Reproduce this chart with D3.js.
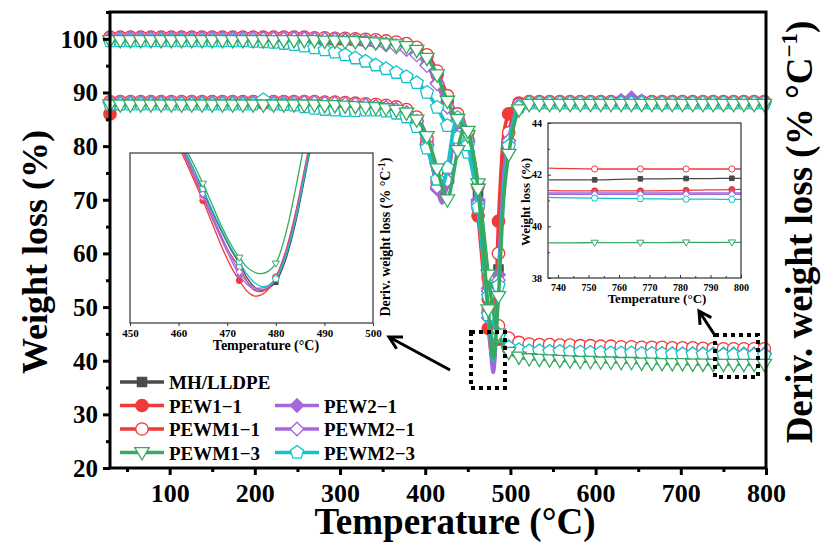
<!DOCTYPE html>
<html>
<head>
<meta charset="utf-8">
<script src="https://cdn.jsdelivr.net/npm/d3@7"></script>
<style>
  body { margin: 0; background: #fff; }
  text { font-family: "Liberation Serif", "Times New Roman", serif; font-weight: bold; fill: #000; }
</style>
</head>
<body>
<svg id="chart" width="821" height="544"></svg>
<script>
// temperature grid of the main TGA / DTG curves (°C)
const temps = [30,42,54,66,78,90,102,114,126,138,150,162,174,186,198,210,222,234,246,258,270,282,294,306,318,330,342,354,366,378,
  384,390,396,402,408,414,420,426,432,438,444,450,456,462,468,474,480,486,492,498,504,510,516,
  522,534,546,558,570,582,594,606,618,630,642,654,666,678,690,702,714,726,738,750,762,774,786,798,800];

// weight loss (%) curves
const tgMH = [100,100,100,100,100,100,100,100,100,100,100,100,100,100,100,100,100,100,100,100,99.9,99.9,99.8,99.8,99.7,99.6,99.5,99.3,99.1,98.8,
  98.5,98.1,97.5,96.6,95.3,93.5,91.2,88.8,86.8,85.4,84.0,81.8,78.0,71.5,63.0,54.5,48.5,45.5,44.0,43.2,42.8,42.6,42.5,
  42.4,42.4,42.3,42.3,42.2,42.2,42.2,42.1,42.1,42.1,42.0,42.0,42.0,42.0,41.9,41.9,41.9,41.9,41.8,41.8,41.8,41.8,41.85,41.85,41.85];
const tgPEW11 = [100.1,100.1,100.1,100.1,100.1,100.1,100.1,100.1,100.1,100.1,100.1,100.1,100.1,100.1,100.1,100.1,100.1,100.1,100.1,100.1,100.0,100.0,99.9,99.9,99.8,99.7,99.6,99.4,99.2,98.9,
  98.6,98.2,97.6,96.7,95.3,93.3,90.8,88.4,86.5,85.0,83.4,80.8,76.0,68.5,59.5,51.5,46.5,44.0,42.8,42.2,41.9,41.8,41.7,
  41.7,41.7,41.6,41.6,41.6,41.6,41.5,41.5,41.5,41.5,41.5,41.4,41.4,41.4,41.4,41.4,41.4,41.4,41.38,41.38,41.4,41.4,41.42,41.42,41.42];
const tgPEWM11 = [100.3,100.3,100.3,100.3,100.3,100.3,100.3,100.3,100.3,100.3,100.3,100.3,100.3,100.3,100.3,100.3,100.3,100.3,100.3,100.3,100.2,100.2,100.1,100.1,100.0,99.9,99.8,99.6,99.4,99.1,
  98.8,98.4,97.9,97.0,95.8,94.0,91.8,89.4,87.4,86.0,84.6,82.5,78.8,72.5,64.0,55.5,49.5,46.5,45.0,44.2,43.7,43.4,43.2,
  43.1,43.0,43.0,42.9,42.9,42.8,42.8,42.7,42.7,42.6,42.6,42.5,42.5,42.5,42.4,42.4,42.4,42.3,42.25,42.22,42.22,42.22,42.22,42.22,42.22];
const tgPEWM13 = [99.7,99.7,99.7,99.7,99.7,99.7,99.7,99.7,99.7,99.7,99.7,99.7,99.7,99.7,99.7,99.7,99.7,99.7,99.7,99.7,99.7,99.6,99.6,99.5,99.5,99.4,99.3,99.1,98.9,98.6,
  98.3,97.9,97.3,96.4,95.1,93.3,90.8,88.4,86.4,85.0,83.8,82.0,78.8,73.0,65.0,56.0,49.0,45.0,42.8,41.6,41.0,40.7,40.5,
  40.4,40.3,40.2,40.1,40.0,39.9,39.9,39.8,39.8,39.7,39.7,39.6,39.6,39.5,39.5,39.5,39.4,39.4,39.35,39.35,39.35,39.35,39.37,39.37,39.37];
const tgPEW21 = [100.2,100.2,100.2,100.2,100.2,100.2,100.2,100.2,100.2,100.2,100.2,100.2,100.2,100.2,100.2,100.2,100.2,100.2,100.2,100.2,100.1,100.0,100.0,99.9,99.8,99.6,99.4,99.1,98.7,98.2,
  97.8,97.2,96.4,95.2,93.7,91.8,89.5,87.4,85.8,84.6,83.3,81.0,76.8,70.0,61.5,53.5,48.0,45.0,43.4,42.6,42.1,41.9,41.8,
  41.7,41.7,41.6,41.6,41.5,41.5,41.5,41.4,41.4,41.4,41.4,41.3,41.3,41.3,41.3,41.3,41.3,41.3,41.28,41.28,41.28,41.28,41.28,41.28,41.28];
const tgPEWM21 = [100,100,100,100,100,100,100,100,100,100,100,100,100,100,100,100,100,100,100,100,99.9,99.9,99.8,99.7,99.6,99.4,99.2,98.9,98.5,98.0,
  97.6,97.0,96.2,95.0,93.5,91.6,89.4,87.3,85.7,84.5,83.1,80.7,76.5,69.5,61.0,53.0,47.6,44.8,43.3,42.5,42.0,41.8,41.7,
  41.6,41.6,41.5,41.5,41.4,41.4,41.4,41.3,41.3,41.3,41.3,41.3,41.3,41.3,41.25,41.25,41.25,41.25,41.23,41.23,41.23,41.23,41.23,41.23,41.23];
const tgPEWM23 = [99.6,99.6,99.6,99.6,99.6,99.6,99.6,99.6,99.6,99.6,99.6,99.6,99.6,99.6,99.5,99.4,99.3,99.1,98.9,98.6,98.3,97.9,97.5,97.0,96.4,95.8,95.1,94.4,93.7,92.9,
  92.4,91.8,91.0,90.0,88.7,87.2,85.4,83.8,82.6,81.6,80.6,78.8,75.0,68.5,60.0,52.0,47.0,44.5,43.2,42.5,42.2,42.0,41.9,
  41.8,41.8,41.7,41.7,41.6,41.6,41.5,41.5,41.4,41.4,41.4,41.3,41.3,41.3,41.2,41.2,41.2,41.15,41.1,41.08,41.06,41.05,41.04,41.03,41.03];

// derivative curves (drawn on the same frame, unlabelled right axis)
const dtgMH = [88,88,88,88,88,88,88,88,88,88,88,88,88,88,88,88,88,88,88,88,88,87.9,87.9,87.8,87.7,87.6,87.5,87.3,87.0,86.5,
  85.9,85.1,83.8,81.4,77.8,73.6,71.0,74.2,80.2,84.2,84.0,80.6,76.2,69.0,59.5,49.0,40.0,57.0,75.0,81.5,85.5,87.6,88.0,
  88.1,88.1,88.1,88.1,88.1,88.1,88.1,88.1,88.1,88.1,88.1,88.1,88.1,88.1,88.1,88.1,88.1,88.1,88.1,88.1,88.1,88.1,88.1,88.1,88.1];
const dtgPEW11 = [86.0,87.8,88,88,88,88,88,88,88,88,88,88,88,88,88,88,88,88,88,88,88,87.9,87.9,87.8,87.7,87.6,87.4,87.2,86.9,86.3,
  85.6,84.7,83.2,80.6,76.8,72.4,69.6,73.6,80.8,85.2,84.6,80.8,75.6,67.0,56.5,46.0,39.5,66.0,82.0,86.0,87.5,88.0,88.1,
  88.1,88.1,88.1,88.1,88.1,88.1,88.1,88.1,88.1,88.1,88.1,88.1,88.1,88.1,88.1,88.1,88.1,88.1,88.1,88.1,88.1,88.1,88.1,88.1,88.1];
const dtgPEWM11 = [88.3,88.3,88.3,88.3,88.3,88.3,88.3,88.3,88.3,88.3,88.3,88.3,88.3,88.3,88.3,88.3,88.3,88.3,88.3,88.3,88.3,88.2,88.2,88.1,88.0,87.9,87.8,87.6,87.3,86.8,
  86.2,85.4,84.0,81.4,77.6,73.4,70.6,74.0,80.6,84.8,85.0,81.2,76.6,69.5,60.0,49.5,40.5,60.0,77.0,82.5,86.0,87.8,88.3,
  88.3,88.3,88.3,88.3,88.3,88.3,88.3,88.3,88.3,88.3,88.3,88.3,88.3,88.3,88.3,88.3,88.3,88.3,88.3,88.3,88.3,88.3,88.3,88.3,88.3];
const dtgPEWM13 = [87.7,87.7,87.7,87.7,87.7,87.7,87.7,87.7,87.7,87.7,87.7,87.7,87.7,87.7,87.7,87.7,87.7,87.7,87.7,87.7,87.7,87.6,87.6,87.5,87.4,87.3,87.2,87.0,86.7,86.2,
  85.6,84.9,83.8,81.8,79.0,75.8,72.4,70.0,73.8,79.2,82.6,82.8,78.6,72.0,61.0,49.5,40.5,52.0,70.0,78.5,83.8,86.8,87.6,
  87.8,87.8,87.8,87.8,87.8,87.8,87.8,87.8,87.8,87.8,87.8,87.8,87.8,87.8,87.8,87.8,87.8,87.8,87.8,87.8,87.8,87.8,87.8,87.8,87.8];
const dtgPEW21 = [88.2,88.2,88.2,88.2,88.2,88.2,88.2,88.2,88.2,88.2,88.2,88.2,88.2,88.2,88.2,88.2,88.2,88.2,88.2,88.2,88.2,88.1,88.0,87.9,87.8,87.7,87.5,87.2,86.9,86.3,
  85.6,84.6,83.0,80.2,76.4,72.0,69.4,73.2,79.8,84.4,84.4,81.0,76.6,69.8,60.5,49.0,39.0,56.0,74.0,81.0,85.0,87.5,88.1,
  88.2,88.2,88.2,88.2,88.2,88.2,88.2,88.2,88.2,88.5,89.0,88.4,88.2,88.2,88.2,88.2,88.2,88.2,88.2,88.2,88.2,88.2,88.2,88.2,88.2];
const dtgPEWM21 = [88.1,88.1,88.1,88.1,88.1,88.1,88.1,88.1,88.1,88.1,88.1,88.1,88.1,88.1,88.1,88.1,88.1,88.1,88.1,88.1,88.1,88.0,88.0,87.9,87.8,87.6,87.4,87.2,86.8,86.2,
  85.5,84.6,83.1,80.4,76.6,72.4,70.0,73.6,80.2,84.6,84.6,81.0,76.4,69.4,59.5,48.0,37.8,55.0,74.0,81.0,85.2,87.6,88.1,
  88.1,88.1,88.1,88.1,88.1,88.1,88.1,88.1,88.1,88.1,88.1,88.1,88.1,88.1,88.1,88.1,88.1,88.1,88.1,88.1,88.1,88.1,88.1,88.1,88.1];
const dtgPEWM23 = [87.8,87.8,87.8,87.8,87.8,87.8,87.8,87.8,87.8,87.8,87.8,87.8,87.8,87.8,87.8,88.6,87.8,87.7,87.6,87.3,87.0,86.8,86.7,86.6,86.6,86.7,86.7,86.5,86.1,85.4,
  84.6,83.6,82.0,79.6,76.6,73.8,72.6,76.0,82.0,85.3,84.4,80.2,75.8,68.6,59.0,48.5,40.0,54.0,72.0,80.0,84.8,87.2,87.9,
  88.0,88.0,88.0,88.0,88.0,88.0,88.0,88.0,88.0,88.0,88.0,88.0,88.0,88.0,88.0,88.0,88.0,88.0,88.0,88.0,88.0,88.0,88.0,88.0,88.0];

// left inset: DTG minimum, 450-500 °C (unlabelled y, 0 = bottom, 100 = top)
const insetT = [459,461,463,465,467,469,471,472.5,474,475.5,477,478.5,480,482,484,486,488];
const inMH     = [115,103,91,78,65,53,42,35,27,21.5,19,20.5,24,37,58,86,115];
const inPEW11  = [110,98,85,72,58,44,32,25,19,16,16.5,20,27,42,64,92,120];
const inPEWM11 = [112,100,87,74,61,49,39,33,25,19.5,18.5,21,27,41,63,90,118];
const inPEWM13 = [116,105,94,82,69,56,45,38.5,33,30,29,30.5,35,52,78,108,140];
const inPEW21  = [113,101,88,75,61,48,36,28,23,20,19.5,21,26,40,62,90,118];
const inPEWM21 = [114,102,89,76,63,50,38,30,24.5,21,20.5,22,26.5,40,61,89,117];
const inPEWM23 = [115,103,91,79,66,54,43,36,29,24,21.5,22,26,39,60,88,116];
const insetMarkT = [465, 472.5, 480];

// right inset: residue, 737-800 °C
const zoomT = [737,744.5,752,759.5,767,774.5,782,789.5,797,800];
const zmMH     = [41.8,41.8,41.8,41.82,41.84,41.84,41.85,41.85,41.86,41.86];
const zmPEW11  = [41.38,41.37,41.37,41.37,41.37,41.38,41.39,41.41,41.42,41.43];
const zmPEWM11 = [42.25,42.23,42.22,42.22,42.22,42.22,42.22,42.22,42.22,42.22];
const zmPEWM13 = [39.36,39.36,39.37,39.37,39.37,39.37,39.38,39.38,39.38,39.38];
const zmPEW21  = [41.29,41.29,41.29,41.29,41.29,41.29,41.29,41.29,41.29,41.29];
const zmPEWM21 = [41.24,41.24,41.24,41.24,41.24,41.24,41.24,41.24,41.24,41.24];
const zmPEWM23 = [41.12,41.1,41.09,41.08,41.07,41.06,41.05,41.05,41.04,41.04];
const zoomMarkT = [752, 767, 782, 797];

const yTicks = [20,30,40,50,60,70,80,90,100];
const xTicks = [100,200,300,400,500,600,700,800];

const series = [
  {name:"MH/LLDPE", color:"#4a4a4a", shape:"square",   filled:true,  tg:tgMH,     dtg:dtgMH,     ins:inMH,     zm:zmMH},
  {name:"PEW1\u22121",  color:"#f03a3a", shape:"circle",   filled:true,  tg:tgPEW11,  dtg:dtgPEW11,  ins:inPEW11,  zm:zmPEW11},
  {name:"PEWM1\u22121", color:"#f03a3a", shape:"circle",   filled:false, tg:tgPEWM11, dtg:dtgPEWM11, ins:inPEWM11, zm:zmPEWM11},
  {name:"PEW2\u22121",  color:"#a468d8", shape:"diamond",  filled:true,  tg:tgPEW21,  dtg:dtgPEW21,  ins:inPEW21,  zm:zmPEW21},
  {name:"PEWM2\u22121", color:"#a468d8", shape:"diamond",  filled:false, tg:tgPEWM21, dtg:dtgPEWM21, ins:inPEWM21, zm:zmPEWM21},
  {name:"PEWM2\u22123", color:"#16c2c6", shape:"pentagon", filled:false, tg:tgPEWM23, dtg:dtgPEWM23, ins:inPEWM23, zm:zmPEWM23},
  {name:"PEWM1\u22123", color:"#36aa62", shape:"triDown",  filled:false, tg:tgPEWM13, dtg:dtgPEWM13, ins:inPEWM13, zm:zmPEWM13}
];

function symbolPath(shape, s) {
  if (shape == "square") return "M" + (-s) + "," + (-s) + "H" + s + "V" + s + "H" + (-s) + "Z";
  if (shape == "circle") return d3.symbol(d3.symbolCircle, Math.PI * s * s)();
  if (shape == "diamond") { var k = s * 1.3; return "M0," + (-k) + "L" + k + ",0L0," + k + "L" + (-k) + ",0Z"; }
  if (shape == "triDown") return "M" + (-s * 1.2) + "," + (-s * 0.8) + "L" + (s * 1.2) + "," + (-s * 0.8) + "L0," + (s * 1.25) + "Z";
  // pentagon
  var pts = d3.range(5).map(function(i) {
    var a = -Math.PI / 2 + i * 2 * Math.PI / 5;
    return [s * 1.12 * Math.cos(a), s * 1.12 * Math.sin(a)];
  });
  return "M" + pts.map(function(p) { return p[0].toFixed(2) + "," + p[1].toFixed(2); }).join("L") + "Z";
}
var sizes = {square: 4.6, circle: 6.2, diamond: 5.2, triDown: 6, pentagon: 6.2};

function drawMarker(g, s, px, py, scale, sw) {
  g.append("path")
    .attr("d", symbolPath(s.shape, sizes[s.shape] * scale))
    .attr("transform", "translate(" + px + "," + py + ")")
    .attr("fill", s.filled ? s.color : "#fff")
    .attr("stroke", s.color)
    .attr("stroke-width", sw);
}

var svg = d3.select("#chart");
var x = d3.scaleLinear().domain([30, 800]).range([110, 766]);
var y = d3.scaleLinear().domain([20, 105]).range([468, 12]);

// ---- main curves
var main = svg.append("g");
var line = d3.line().curve(d3.curveMonotoneX);
series.forEach(function(s) {
  var g = main.append("g");
  [s.tg, s.dtg].forEach(function(vals) {
    var pts = temps.map(function(t, i) { return [x(t), y(vals[i])]; }).filter(function(p) { return !isNaN(p[1]); });
    g.append("path").attr("d", line(pts)).attr("fill", "none")
      .attr("stroke", s.color).attr("stroke-width", 3.5).attr("stroke-linejoin", "round");
    temps.forEach(function(t, i) {
      if ((t - 30) % 12 == 0 && vals[i] != null) drawMarker(g, s, x(t), y(vals[i]), 1, 1.3);
    });
  });
});

// ---- frame and axes
svg.append("rect").attr("x", 110).attr("y", 12).attr("width", 656).attr("height", 456)
  .attr("fill", "none").attr("stroke", "#000").attr("stroke-width", 3);

var yAxis = svg.append("g").attr("transform", "translate(110,0)")
  .call(d3.axisLeft(y).tickValues(yTicks).tickSize(7).tickPadding(5));
var yMinor = svg.append("g").attr("transform", "translate(110,0)")
  .call(d3.axisLeft(y).tickValues([25,35,45,55,65,75,85,95,105]).tickSize(4).tickFormat(""));
var xAxis = svg.append("g").attr("transform", "translate(0,468)")
  .call(d3.axisBottom(x).tickValues(xTicks).tickSize(7).tickPadding(5));
var xMinor = svg.append("g").attr("transform", "translate(0,468)")
  .call(d3.axisBottom(x).tickValues([50,150,250,350,450,550,650,750]).tickSize(4).tickFormat(""));
[yAxis, yMinor, xAxis, xMinor].forEach(function(a) {
  a.select(".domain").remove();
  a.selectAll("line").attr("stroke", "#000").attr("stroke-width", 3);
});
yAxis.selectAll("text").attr("font-size", 25).attr("dy", "0.34em");
xAxis.selectAll("text").attr("font-size", 26).attr("dy", null).attr("y", 34);

svg.append("text").attr("x", 455).attr("y", 534).attr("text-anchor", "middle")
  .attr("font-size", 37).text("Temperature (\u00b0C)");
svg.append("text").attr("transform", "translate(47,252) rotate(-90)").attr("text-anchor", "middle")
  .attr("font-size", 36).text("Weight loss (%)");
var rl = svg.append("text").attr("transform", "translate(812,232) rotate(-90)").attr("text-anchor", "middle")
  .attr("font-size", 37);
rl.append("tspan").text("Deriv. weight loss (% \u00b0C");
rl.append("tspan").attr("font-size", 23).attr("dy", -15).text("\u22121");
rl.append("tspan").attr("dy", 15).text(")");

// ---- legend
var legendPos = [[0,0],[0,1],[0,2],[1,1],[1,2],[1,3],[0,3]];
series.forEach(function(s, i) {
  var col = legendPos[i][0], row = legendPos[i][1];
  var lx = col == 0 ? 120 : 275, ly = 382 + row * 23.5;
  var g = svg.append("g");
  g.append("line").attr("x1", lx).attr("x2", lx + 44).attr("y1", ly).attr("y2", ly)
    .attr("stroke", s.color).attr("stroke-width", 3.5);
  drawMarker(g, s, lx + 22, ly, 1, 1.3);
  g.append("text").attr("x", lx + 49).attr("y", ly + 7).attr("font-size", 19).text(s.name);
});

// ---- dotted boxes and arrows
[[471, 332, 34, 56], [715, 335, 43, 42]].forEach(function(b) {
  svg.append("rect").attr("x", b[0]).attr("y", b[1]).attr("width", b[2]).attr("height", b[3])
    .attr("fill", "none").attr("stroke", "#000").attr("stroke-width", 4).attr("stroke-dasharray", "4 4");
});
function arrow(x1, y1, x2, y2) {
  svg.append("line").attr("x1", x1).attr("y1", y1).attr("x2", x2).attr("y2", y2)
    .attr("stroke", "#000").attr("stroke-width", 3);
  var a = Math.atan2(y1 - y2, x1 - x2), L = 14, w = 0.5;
  svg.append("path").attr("d", "M" + (x2 + L * Math.cos(a + w)) + "," + (y2 + L * Math.sin(a + w)) +
      "L" + x2 + "," + y2 + "L" + (x2 + L * Math.cos(a - w)) + "," + (y2 + L * Math.sin(a - w)))
    .attr("fill", "none").attr("stroke", "#000").attr("stroke-width", 3);
}
arrow(450, 370, 389, 337);
arrow(714, 334, 699, 311);

// ---- left inset
var ix = d3.scaleLinear().domain([450, 500]).range([130, 373]);
var iy = d3.scaleLinear().domain([0, 100]).range([323, 153]);
var ins = svg.append("g");
ins.append("rect").attr("x", 130).attr("y", 153).attr("width", 243).attr("height", 170).attr("fill", "#fff");
svg.append("clipPath").attr("id", "clipIns").append("rect").attr("x", 130).attr("y", 153).attr("width", 243).attr("height", 170);
var insCurves = ins.append("g").attr("clip-path", "url(#clipIns)");
var iline = d3.line().curve(d3.curveCatmullRom);
series.forEach(function(s) {
  var g = insCurves.append("g");
  g.append("path").attr("d", iline(insetT.map(function(t, i) { return [ix(t), iy(s.ins[i])]; })))
    .attr("fill", "none").attr("stroke", s.color).attr("stroke-width", 1.3);
  insetT.forEach(function(t, i) {
    if (insetMarkT.indexOf(t) >= 0) drawMarker(g, s, ix(t), iy(s.ins[i]), 0.5, 1);
  });
});
ins.append("rect").attr("x", 130).attr("y", 153).attr("width", 243).attr("height", 170)
  .attr("fill", "none").attr("stroke", "#333").attr("stroke-width", 1.2);
var iax = ins.append("g").attr("transform", "translate(0,323)")
  .call(d3.axisBottom(ix).tickValues([450,460,470,480,490,500]).tickSize(3).tickPadding(3));
iax.select(".domain").remove();
iax.selectAll("line").attr("stroke", "#333");
iax.selectAll("text").attr("font-size", 11);
ins.append("text").attr("x", 266).attr("y", 350).attr("text-anchor", "middle").attr("font-size", 14)
  .text("Temperature (\u00b0C)");
var il = ins.append("text").attr("transform", "translate(390,237) rotate(-90)").attr("text-anchor", "middle")
  .attr("font-size", 14);
il.append("tspan").text("Deriv. weight loss (% \u00b0C");
il.append("tspan").attr("font-size", 10).attr("dy", -5).text("-1");
il.append("tspan").attr("dy", 5).text(")");

// ---- right inset
var jx = d3.scaleLinear().domain([736.7, 800]).range([548, 741]);
var jy = d3.scaleLinear().domain([38, 44]).range([278, 123]);
var zm = svg.append("g");
zm.append("rect").attr("x", 548).attr("y", 123).attr("width", 193).attr("height", 155).attr("fill", "#fff");
var jline = d3.line().curve(d3.curveMonotoneX);
series.forEach(function(s) {
  var g = zm.append("g");
  g.append("path").attr("d", jline(zoomT.map(function(t, i) { return [jx(t), jy(s.zm[i])]; })))
    .attr("fill", "none").attr("stroke", s.color).attr("stroke-width", 1.3);
  zoomT.forEach(function(t, i) {
    if (zoomMarkT.indexOf(t) >= 0) drawMarker(g, s, jx(t), jy(s.zm[i]), 0.5, 1);
  });
});
zm.append("rect").attr("x", 548).attr("y", 123).attr("width", 193).attr("height", 155)
  .attr("fill", "none").attr("stroke", "#333").attr("stroke-width", 1.2);
var jxa = zm.append("g").attr("transform", "translate(0,278)")
  .call(d3.axisBottom(jx).tickValues([740,750,760,770,780,790,800]).tickSize(-3).tickPadding(6));
var jxm = zm.append("g").attr("transform", "translate(0,278)")
  .call(d3.axisBottom(jx).tickValues([745,755,765,775,785,795]).tickSize(-2).tickFormat(""));
var jya = zm.append("g").attr("transform", "translate(548,0)")
  .call(d3.axisLeft(jy).tickValues([38,40,42,44]).tickFormat(d3.format("d")).tickSize(-3).tickPadding(6));
var jym = zm.append("g").attr("transform", "translate(548,0)")
  .call(d3.axisLeft(jy).tickValues([39,41,43]).tickSize(-2).tickFormat(""));
[jxa, jxm, jya, jym].forEach(function(a) {
  a.select(".domain").remove();
  a.selectAll("line").attr("stroke", "#333");
  a.selectAll("text").attr("font-size", 10);
});
zm.append("text").attr("x", 657).attr("y", 303).attr("text-anchor", "middle").attr("font-size", 13)
  .text("Temperature (\u00b0C)");
zm.append("text").attr("transform", "translate(530,202) rotate(-90)").attr("text-anchor", "middle")
  .attr("font-size", 13).text("Weight loss (%)");
</script>
</body>
</html>
